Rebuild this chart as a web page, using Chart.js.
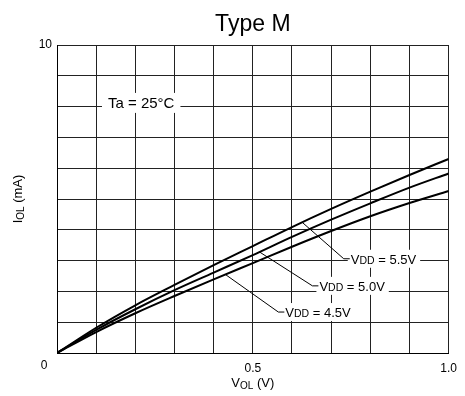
<!DOCTYPE html>
<html>
<head>
<meta charset="utf-8">
<script src="https://cdn.jsdelivr.net/npm/chart.js@4/dist/chart.umd.min.js"></script>
<style>
  html, body { margin: 0; padding: 0; background: #fff; }
  #wrap { width: 465px; height: 396px; }
</style>
</head>
<body>
<div id="wrap"><canvas id="c" width="465" height="396"></canvas></div>
<script>
// Output voltage V_OL (V)
const vol = [0, 0.1, 0.2, 0.3, 0.4, 0.5, 0.6, 0.7, 0.8, 0.9, 1.0];
// Output sink current I_OL (mA) for each supply voltage
const iolVdd55 = [0, 0.82, 1.55, 2.21, 2.85, 3.47, 4.09, 4.68, 5.24, 5.78, 6.30];
const iolVdd50 = [0, 0.75, 1.42, 2.04, 2.61, 3.18, 3.77, 4.33, 4.86, 5.37, 5.83];
const iolVdd45 = [0, 0.68, 1.29, 1.85, 2.39, 2.92, 3.45, 3.96, 4.44, 4.87, 5.26];
const seriesNames = ['5.5V', '5.0V', '4.5V'];

// Labelled tick values
const xTickValues = [0.5, 1.0];
const xTickLabels = ['0.5', '1.0'];
const yTickValues = [10];
const yTickLabels = ['10'];
const originLabel = '0';

const FONT = '"Liberation Sans", Arial, Helvetica, sans-serif';

const allSeries = [iolVdd55, iolVdd50, iolVdd45];
const datasets = allSeries.map((s, k) => ({
  label: 'VDD = ' + seriesNames[k],
  data: vol.map((x, i) => ({ x: x, y: s[i] })),
  borderColor: '#000',
  borderWidth: 2,
  pointRadius: 0,
  fill: false,
  cubicInterpolationMode: 'monotone'
}));

function pickLabel(values, labels, v) {
  for (let i = 0; i < values.length; i++) {
    if (Math.abs(values[i] - v) < 1e-6) return labels[i];
  }
  return '';
}

// Linear lookup along a series, used to hook the callout leaders onto a curve
function valueAt(series, x) {
  for (let i = 1; i < vol.length; i++) {
    if (x <= vol[i]) {
      const t = (x - vol[i - 1]) / (vol[i] - vol[i - 1]);
      return series[i - 1] + t * (series[i] - series[i - 1]);
    }
  }
  return series[series.length - 1];
}

// Draw a run of text pieces with different sizes / baseline shifts
function drawRuns(ctx, runs, x, y, align) {
  let total = 0;
  runs.forEach(r => { ctx.font = r.size + 'px ' + FONT; r.w = ctx.measureText(r.t).width; total += r.w; });
  let cx = align === 'center' ? x - total / 2 : (align === 'right' ? x - total : x);
  ctx.textAlign = 'left';
  ctx.textBaseline = 'alphabetic';
  runs.forEach(r => {
    ctx.font = r.size + 'px ' + FONT;
    ctx.fillText(r.t, cx, y + (r.dy || 0));
    cx += r.w;
  });
  return total;
}

// Callouts: curve hook (x value), label anchor in data units
const callouts = [
  { series: 0, hookX: 0.626, labelX: 0.75, labelY: 3.06, text: '5.5V' },
  { series: 1, hookX: 0.517, labelX: 0.67, labelY: 2.18, text: '5.0V' },
  { series: 2, hookX: 0.430, labelX: 0.583, labelY: 1.33, text: '4.5V' }
];
const ambient = { x: 0.215, y: 8.12, text: 'Ta = 25\u00B0C' };

const textPlugin = {
  id: 'sheetText',
  afterDatasetsDraw(chart) {
    const ctx = chart.ctx;
    const xs = chart.scales.x, ys = chart.scales.y;
    ctx.save();
    ctx.fillStyle = '#000';

    // Ambient temperature note with white backing
    {
      ctx.font = '15px ' + FONT;
      const w = ctx.measureText(ambient.text).width;
      const cx = xs.getPixelForValue(ambient.x);
      const cy = ys.getPixelForValue(ambient.y);
      ctx.fillStyle = '#fff';
      ctx.fillRect(cx - w / 2 - 6, cy - 10, w + 12, 20);
      ctx.fillStyle = '#000';
      ctx.textAlign = 'center';
      ctx.textBaseline = 'middle';
      ctx.fillText(ambient.text, cx, cy + 1);
    }

    // Supply-voltage callouts
    callouts.forEach(c => {
      const runs = [
        { t: 'V', size: 13 },
        { t: 'DD', size: 10.5 },
        { t: ' = ' + c.text, size: 13 }
      ];
      let total = 0;
      runs.forEach(r => { ctx.font = r.size + 'px ' + FONT; total += ctx.measureText(r.t).width; });
      const lx = xs.getPixelForValue(c.labelX);
      const ly = ys.getPixelForValue(c.labelY);
      ctx.fillStyle = '#fff';
      ctx.fillRect(lx - 3, ly - 9, total + 7, 18);
      ctx.fillStyle = '#000';
      drawRuns(ctx, runs, lx, ly + 5, 'left');

      const hx = xs.getPixelForValue(c.hookX);
      const hy = ys.getPixelForValue(valueAt(allSeries[c.series], c.hookX));
      ctx.strokeStyle = '#000';
      ctx.lineWidth = 1;
      ctx.beginPath();
      ctx.moveTo(hx, hy);
      ctx.lineTo(lx - 7, ly);
      ctx.lineTo(lx - 1, ly);
      ctx.stroke();
    });

    ctx.restore();
  },
  afterDraw(chart) {
    const ctx = chart.ctx;
    const area = chart.chartArea;
    const midX = (area.left + area.right) / 2;
    const midY = (area.top + area.bottom) / 2;
    ctx.save();
    ctx.fillStyle = '#000';

    // Title
    ctx.font = '23px ' + FONT;
    ctx.textAlign = 'center';
    ctx.textBaseline = 'alphabetic';
    ctx.fillText('Type M', midX, 31);

    // Shared origin label
    ctx.font = '12px ' + FONT;
    ctx.textAlign = 'center';
    ctx.textBaseline = 'middle';
    ctx.fillText(originLabel, area.left - 13, area.bottom + 13);

    // X axis title
    drawRuns(ctx, [
      { t: 'V', size: 13 },
      { t: 'OL', size: 10, dy: 1.5 },
      { t: ' (V)', size: 13 }
    ], midX, area.bottom + 34, 'center');

    // Y axis title
    ctx.translate(22, midY);
    ctx.rotate(-Math.PI / 2);
    drawRuns(ctx, [
      { t: 'I', size: 13 },
      { t: 'OL', size: 10, dy: 1.5 },
      { t: ' (mA)', size: 13 }
    ], 0, 0, 'center');

    ctx.restore();
  }
};

new Chart(document.getElementById('c'), {
  type: 'line',
  data: { datasets: datasets },
  plugins: [textPlugin],
  options: {
    responsive: false,
    animation: false,
    devicePixelRatio: 1,
    layout: { padding: { left: 0, right: 10, top: 45, bottom: 0 } },
    plugins: {
      legend: { display: false },
      title: { display: false },
      tooltip: { enabled: false }
    },
    scales: {
      x: {
        type: 'linear',
        min: 0,
        max: 1,
        afterFit(s) { s.height = 43; },
        ticks: {
          stepSize: 0.1,
          autoSkip: false,
          maxRotation: 0,
          padding: 8,
          color: '#000',
          font: { family: FONT, size: 12 },
          callback: v => pickLabel(xTickValues, xTickLabels, v)
        },
        grid: { color: '#222', lineWidth: 1, drawTicks: false },
        border: { color: '#000', width: 1 }
      },
      y: {
        min: 0,
        max: 10,
        afterFit(s) { s.width = 57; },
        ticks: {
          stepSize: 1,
          autoSkip: false,
          padding: 5,
          color: '#000',
          font: { family: FONT, size: 12 },
          callback: v => pickLabel(yTickValues, yTickLabels, v)
        },
        grid: { color: '#222', lineWidth: 1, drawTicks: false },
        border: { color: '#000', width: 1 }
      }
    }
  }
});
</script>
</body>
</html>
